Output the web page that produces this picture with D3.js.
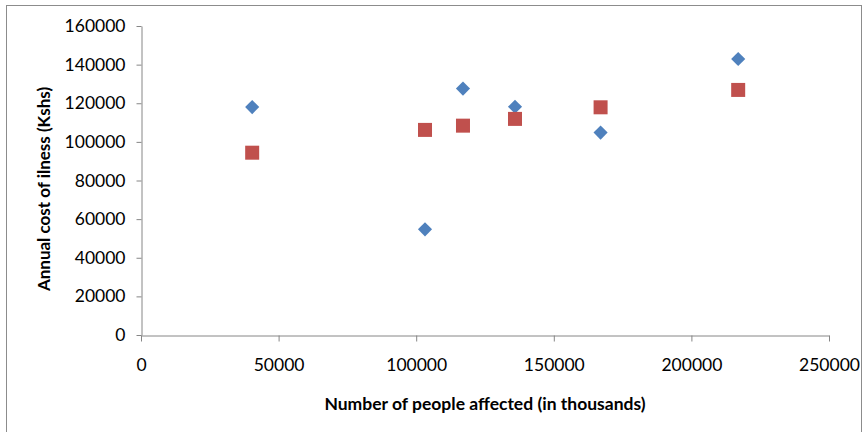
<!DOCTYPE html>
<html>
<head>
<meta charset="utf-8">
<script src="https://cdn.jsdelivr.net/npm/d3@7"></script>
<style>
  html, body { margin: 0; padding: 0; background: #fff; }
  svg { display: block; }
  text { font-family: Lato, "Open Sans", sans-serif; fill: #000; }
</style>
</head>
<body>
<svg id="chart" width="866" height="432"></svg>
<script>
// Number of people affected (in thousands)
const peopleAffected = [40400, 103200, 117000, 135900, 167000, 217000];
// Annual cost of illness (Kshs): observed and fitted
const observedCost = [118000, 54700, 127600, 118200, 104800, 142900];
const fittedCost = [94400, 106200, 108400, 111900, 117900, 126900];
const xTicks = [0, 50000, 100000, 150000, 200000, 250000];
const yTicks = [0, 20000, 40000, 60000, 80000, 100000, 120000, 140000, 160000];

const svg = d3.select("#chart");
const plot = { left: 141, right: 829, top: 26, bottom: 335 };

// outer chart frame
svg.append("rect")
  .attr("x", 6.5).attr("y", 5.5)
  .attr("width", 855).attr("height", 440)
  .attr("fill", "#fff").attr("stroke", "#8c8c8c").attr("stroke-width", 1);

const x = d3.scaleLinear().domain([0, 250000]).range([plot.left, plot.right]);
const y = d3.scaleLinear().domain([0, 160000]).range([plot.bottom, plot.top]);

const axisColor = "#868686";

const gx = svg.append("g")
  .attr("transform", `translate(0,${plot.bottom + 0.5})`)
  .call(d3.axisBottom(x).tickValues(xTicks).tickFormat(d3.format("d")).tickSize(6).tickSizeOuter(0));
gx.select(".domain").attr("stroke", axisColor);
gx.selectAll(".tick line").attr("stroke", axisColor);
gx.selectAll(".tick text").attr("font-size", 17.5).attr("dy", "1.5em").attr("fill", "#000")
  .attr("font-family", "Lato, sans-serif");

const gy = svg.append("g")
  .attr("transform", `translate(${plot.left + 0.5},0)`)
  .call(d3.axisLeft(y).tickValues(yTicks).tickFormat(d3.format("d")).tickSize(5).tickSizeOuter(0));
gy.select(".domain").attr("stroke", axisColor);
gy.selectAll(".tick line").attr("stroke", axisColor);
gy.selectAll(".tick text").attr("font-size", 17.5).attr("x", -16).attr("fill", "#000")
  .attr("font-family", "Lato, sans-serif");

// axis titles
svg.append("text")
  .attr("x", (plot.left + plot.right) / 2).attr("y", 410)
  .attr("text-anchor", "middle").attr("font-size", 17.5).attr("font-weight", "bold")
  .text("Number of people affected (in thousands)");

svg.append("text")
  .attr("transform", `translate(50,189) rotate(-90)`)
  .attr("text-anchor", "middle").attr("font-size", 17).attr("font-weight", "bold")
  .text("Annual cost of ilness (Kshs)");

// observed values: blue diamonds
const diamond = d3.symbol().type(d3.symbolSquare).size(100);
svg.append("g").selectAll("path")
  .data(peopleAffected.map((p, i) => [p, observedCost[i]]))
  .join("path")
  .attr("d", diamond)
  .attr("transform", d => `translate(${x(d[0])},${y(d[1])}) rotate(45)`)
  .attr("fill", "#4F81BD");

// fitted values: red squares
const sq = 14;
svg.append("g").selectAll("rect")
  .data(peopleAffected.map((p, i) => [p, fittedCost[i]]))
  .join("rect")
  .attr("x", d => x(d[0]) - sq / 2)
  .attr("y", d => y(d[1]) - sq / 2)
  .attr("width", sq).attr("height", sq)
  .attr("fill", "#C0504D");
</script>
</body>
</html>
